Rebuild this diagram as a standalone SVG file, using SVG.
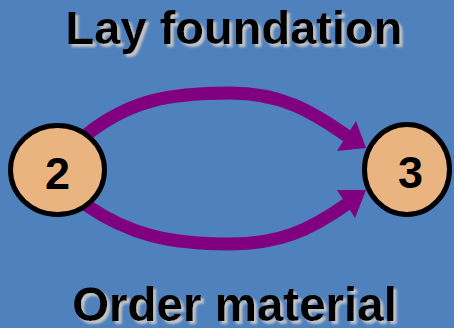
<svg xmlns="http://www.w3.org/2000/svg" width="454" height="328" viewBox="0 0 454 328">
  <defs>
    <style>
      .label { font-family: "Liberation Sans", Arial, sans-serif; font-weight: bold; font-size: 47px; fill: #000; text-anchor: middle; }
      .num { font-family: "Liberation Sans", Arial, sans-serif; font-weight: bold; font-size: 45px; fill: #000; text-anchor: middle; }
      .node { fill: #EAB480; stroke: #000; stroke-width: 5; }
      .edge { fill: none; stroke: #800080; stroke-width: 13; }
      .head { fill: #800080; }
    </style>
    <filter id="shadow" x="-5%" y="-20%" width="110%" height="140%">
      <feGaussianBlur in="SourceAlpha" stdDeviation="0.8" result="b"/>
      <feOffset in="b" dx="2.5" dy="2.5" result="o"/>
      <feFlood flood-color="#c4c4c4"/>
      <feComposite in2="o" operator="in" result="s"/>
      <feMerge>
        <feMergeNode in="s"/>
        <feMergeNode in="SourceGraphic"/>
      </feMerge>
    </filter>
  </defs>

  <rect width="454" height="328" fill="#4F81BD"/>

  <!-- activity arrows -->
  <g id="connectors">
    <path class="edge" d="M 86 135 C 130 100, 170 93, 230 93 C 280 93, 310 110, 347 136"/>
    <polygon class="head" points="366,148 356,121 337,151"/>
    <path class="edge" d="M 86 205 C 130 235, 170 244, 230 244 C 280 244, 310 230, 347 204"/>
    <polygon class="head" points="366,190 337,190 355,218"/>
  </g>

  <g id="node-2">
    <ellipse class="node" cx="57.5" cy="170" rx="47" ry="44.5"/>
    <text class="num" x="57.5" y="189">2</text>
  </g>

  <g id="node-3">
    <ellipse class="node" cx="407" cy="169.5" rx="42.5" ry="45"/>
    <text class="num" x="410.5" y="188">3</text>
  </g>

  <g id="labels" filter="url(#shadow)">
    <text class="label" x="234" y="44">Lay foundation</text>
    <text class="label" x="234.5" y="321" style="font-size:47.5px">Order material</text>
  </g>
</svg>
